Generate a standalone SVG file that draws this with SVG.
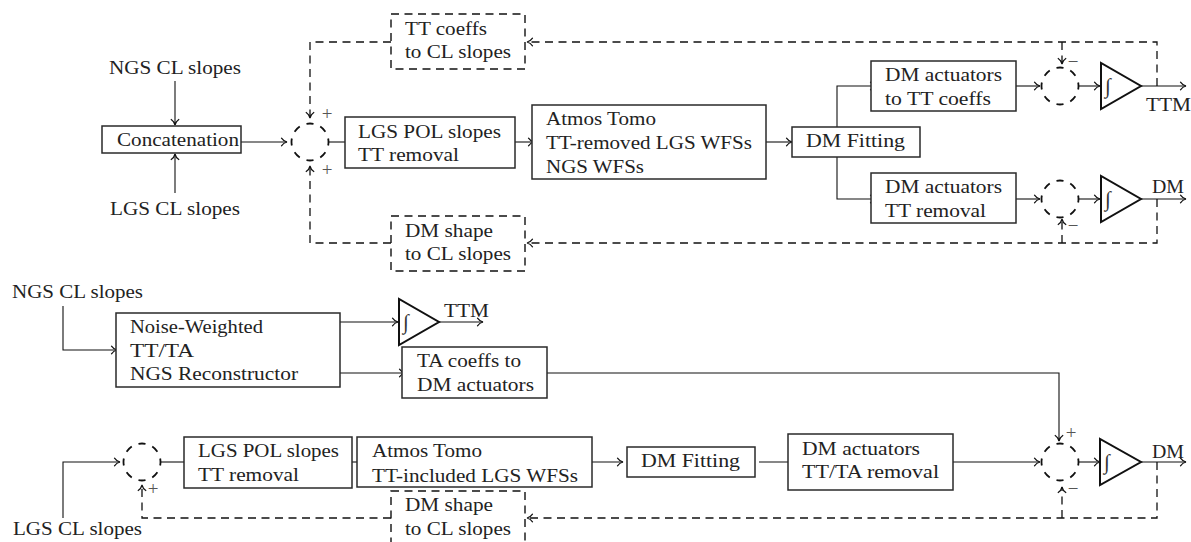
<svg xmlns="http://www.w3.org/2000/svg" width="1191" height="542" viewBox="0 0 1191 542">
<defs>
<style>
.t{font-family:'Liberation Serif','DejaVu Serif',serif;font-size:19px;fill:#222}
.sg{font-family:'Liberation Serif','DejaVu Serif',serif;font-size:19px;fill:#555;text-anchor:middle}
.ig{font-family:'Liberation Serif','DejaVu Serif',serif;font-size:21px;fill:#333;text-anchor:middle;font-style:italic}
.box{fill:#fff;stroke:#2a2a2a;stroke-width:1.5}
.dbox{fill:none;stroke:#111;stroke-width:1.4;stroke-dasharray:8 5.5}
.ln{fill:none;stroke:#111;stroke-width:1.1;marker-end:url(#ah)}
.dl{fill:none;stroke:#111;stroke-width:1.3;stroke-dasharray:8 5.5;marker-end:url(#ah)}
.sum{fill:none;stroke:#111;stroke-width:1.8;stroke-dasharray:5 5;stroke-dashoffset:2.5}
.tri{fill:#fff;stroke:#111;stroke-width:2;stroke-linejoin:miter}
</style>
<marker id="ah" markerUnits="userSpaceOnUse" markerWidth="10" markerHeight="10" viewBox="-7 -5 8 10" refX="0" refY="0" orient="auto">
<path d="M-5.5,-3.8 C-4,-1.5 -1.8,-0.4 0,0 C-1.8,0.4 -4,1.5 -5.5,3.8" fill="none" stroke="#111" stroke-width="1.2" stroke-linecap="round"/>
</marker>
</defs>
<rect width="1191" height="542" fill="#fff"/>

<g id="connectors">
<path class="ln" d="M175,81 V125"/>
<path class="ln" d="M175,193 V154"/>
<path class="ln" d="M241,142 H287"/>
<path class="ln" d="M328,142 H353"/>
<path class="ln" d="M506,142 H534"/>
<path class="ln" d="M764,142 H792"/>
<path class="ln" d="M837,127 V86 H876"/>
<path class="ln" d="M837,157 V199 H876"/>
<path class="ln" d="M1012,86 H1040"/>
<path class="ln" d="M1012,199 H1040"/>
<path class="ln" d="M1079,86 H1100"/>
<path class="ln" d="M1079,199 H1100"/>
<path class="ln" d="M1141,86 H1186"/>
<path class="ln" d="M1141,199 H1186"/>
<path class="dl" d="M1157,86 V42 H527"/>
<path class="dl" d="M1062,42 V64"/>
<path class="dl" d="M391,42 H310 V118"/>
<path class="dl" d="M1157,199 V243 H527"/>
<path class="dl" d="M1062,243 V219"/>
<path class="dl" d="M391,243 H310 V166"/>
<path class="ln" d="M63,306 V350 H117"/>
<path class="ln" d="M338,322 H398"/>
<path class="ln" d="M439,322 H483"/>
<path class="ln" d="M338,373 H405"/>
<path class="ln" d="M547,373 H1059 V441"/>
<path class="ln" d="M63,518 V462 H120"/>
<path class="ln" d="M161,462 H191"/>
<path class="ln" d="M343,462 H365"/>
<path class="ln" d="M585,462 H623"/>
<path class="ln" d="M759,462 H795"/>
<path class="ln" d="M947,462 H1040"/>
<path class="ln" d="M1079,462 H1100"/>
<path class="ln" d="M1141,462 H1186"/>
<path class="dl" d="M1157,462 V518 H527"/>
<path class="dl" d="M1062,518 V487"/>
<path class="dl" d="M391,518 H142 V485"/>
</g>

<g font-family="Liberation Serif, DejaVu Serif, serif">
<g id="ngs-cl-slopes-1"><text class="t" x="109" y="74" textLength="132" lengthAdjust="spacingAndGlyphs">NGS CL slopes</text></g>
<g id="concatenation"><rect class="box" x="102" y="126" width="139" height="27"/><text class="t" x="117" y="146" textLength="122" lengthAdjust="spacingAndGlyphs">Concatenation</text></g>
<g id="lgs-cl-slopes-1"><text class="t" x="110" y="215" textLength="130" lengthAdjust="spacingAndGlyphs">LGS CL slopes</text></g>
<g id="sum-a"><circle class="sum" cx="310" cy="142" r="18.5" pathLength="80"/><text class="sg" x="327" y="120">+</text><text class="sg" x="327" y="176">+</text></g>
<g id="tt-coeffs-to-cl"><rect class="dbox" x="391" y="14" width="134" height="55"/><text class="t" x="405" y="35" textLength="82" lengthAdjust="spacingAndGlyphs">TT coeffs</text><text class="t" x="405" y="58" textLength="106" lengthAdjust="spacingAndGlyphs">to CL slopes</text></g>
<g id="lgs-pol-1"><rect class="box" x="345" y="117" width="170" height="51"/><text class="t" x="358" y="138" textLength="143" lengthAdjust="spacingAndGlyphs">LGS POL slopes</text><text class="t" x="358" y="161" textLength="101" lengthAdjust="spacingAndGlyphs">TT removal</text></g>
<g id="atmos-tomo-1"><rect class="box" x="532" y="105" width="234" height="74"/><text class="t" x="546" y="125" textLength="110" lengthAdjust="spacingAndGlyphs">Atmos Tomo</text><text class="t" x="546" y="149" textLength="206" lengthAdjust="spacingAndGlyphs">TT-removed LGS WFSs</text><text class="t" x="546" y="173" textLength="98" lengthAdjust="spacingAndGlyphs">NGS WFSs</text></g>
<g id="dm-fitting-1"><rect class="box" x="792" y="127" width="128" height="30"/><text class="t" x="806" y="147" textLength="99" lengthAdjust="spacingAndGlyphs">DM Fitting</text></g>
<g id="dm-act-tt"><rect class="box" x="871" y="61" width="145" height="50"/><text class="t" x="885" y="81" textLength="117" lengthAdjust="spacingAndGlyphs">DM actuators</text><text class="t" x="885" y="105" textLength="106" lengthAdjust="spacingAndGlyphs">to TT coeffs</text></g>
<g id="dm-act-ttrem"><rect class="box" x="871" y="173" width="145" height="50"/><text class="t" x="885" y="193" textLength="117" lengthAdjust="spacingAndGlyphs">DM actuators</text><text class="t" x="885" y="217" textLength="101" lengthAdjust="spacingAndGlyphs">TT removal</text></g>
<g id="sum-b"><circle class="sum" cx="1060" cy="86" r="18.5" pathLength="80"/><text class="sg" x="1073" y="68">−</text></g>
<g id="sum-c"><circle class="sum" cx="1060" cy="199" r="18.5" pathLength="80"/><text class="sg" x="1073" y="232">−</text></g>
<g id="int-b"><polygon class="tri" points="1101,63 1101,109 1141,86"/><text class="ig" x="1108" y="93">∫</text></g>
<g id="int-c"><polygon class="tri" points="1101,176 1101,222 1141,199"/><text class="ig" x="1108" y="206">∫</text></g>
<g id="ttm-1"><text class="t" x="1146" y="111" textLength="45" lengthAdjust="spacingAndGlyphs">TTM</text></g>
<g id="dm-1"><text class="t" x="1152" y="193" textLength="32" lengthAdjust="spacingAndGlyphs">DM</text></g>
<g id="dm-shape-1"><rect class="dbox" x="391" y="216" width="134" height="55"/><text class="t" x="405" y="237" textLength="88" lengthAdjust="spacingAndGlyphs">DM shape</text><text class="t" x="405" y="260" textLength="106" lengthAdjust="spacingAndGlyphs">to CL slopes</text></g>

<g id="ngs-cl-slopes-2"><text class="t" x="12" y="298" textLength="131" lengthAdjust="spacingAndGlyphs">NGS CL slopes</text></g>
<g id="noise-weighted"><rect class="box" x="116" y="313" width="224" height="74"/><text class="t" x="130" y="333" textLength="133" lengthAdjust="spacingAndGlyphs">Noise-Weighted</text><text class="t" x="130" y="357" textLength="64" lengthAdjust="spacingAndGlyphs">TT/TA</text><text class="t" x="130" y="380" textLength="168" lengthAdjust="spacingAndGlyphs">NGS Reconstructor</text></g>
<g id="int-m"><polygon class="tri" points="399,299 399,345 439,322"/><text class="ig" x="406" y="329">∫</text></g>
<g id="ttm-2"><text class="t" x="444" y="317" textLength="45" lengthAdjust="spacingAndGlyphs">TTM</text></g>
<g id="ta-coeffs"><rect class="box" x="402" y="347" width="145" height="51"/><text class="t" x="417" y="367" textLength="104" lengthAdjust="spacingAndGlyphs">TA coeffs to</text><text class="t" x="417" y="391" textLength="117" lengthAdjust="spacingAndGlyphs">DM actuators</text></g>

<g id="lgs-cl-slopes-2"><text class="t" x="13" y="535" textLength="129" lengthAdjust="spacingAndGlyphs">LGS CL slopes</text></g>
<g id="sum-e"><circle class="sum" cx="142" cy="462" r="18.5" pathLength="80"/><text class="sg" x="153" y="495">+</text></g>
<g id="lgs-pol-2"><rect class="box" x="184" y="437" width="168" height="51"/><text class="t" x="198" y="457" textLength="141" lengthAdjust="spacingAndGlyphs">LGS POL slopes</text><text class="t" x="198" y="481" textLength="101" lengthAdjust="spacingAndGlyphs">TT removal</text></g>
<g id="atmos-tomo-2"><rect class="box" x="357" y="437" width="235" height="50"/><text class="t" x="372" y="457" textLength="110" lengthAdjust="spacingAndGlyphs">Atmos Tomo</text><text class="t" x="372" y="482" textLength="206" lengthAdjust="spacingAndGlyphs">TT-included LGS WFSs</text></g>
<g id="dm-fitting-2"><rect class="box" x="627" y="447" width="128" height="30"/><text class="t" x="641" y="467" textLength="99" lengthAdjust="spacingAndGlyphs">DM Fitting</text></g>
<g id="dm-act-ttta"><rect class="box" x="788" y="434" width="165" height="56"/><text class="t" x="802" y="455" textLength="118" lengthAdjust="spacingAndGlyphs">DM actuators</text><text class="t" x="802" y="478" textLength="137" lengthAdjust="spacingAndGlyphs">TT/TA removal</text></g>
<g id="sum-d"><circle class="sum" cx="1060" cy="462" r="18.5" pathLength="80"/><text class="sg" x="1071" y="439">+</text><text class="sg" x="1073" y="495">−</text></g>
<g id="int-d"><polygon class="tri" points="1100,439 1100,485 1141,462"/><text class="ig" x="1107" y="469">∫</text></g>
<g id="dm-2"><text class="t" x="1152" y="458" textLength="32" lengthAdjust="spacingAndGlyphs">DM</text></g>
<g id="dm-shape-2"><rect class="dbox" x="391" y="491" width="134" height="62"/><text class="t" x="405" y="511" textLength="88" lengthAdjust="spacingAndGlyphs">DM shape</text><text class="t" x="405" y="535" textLength="106" lengthAdjust="spacingAndGlyphs">to CL slopes</text></g>
</g>
</svg>
